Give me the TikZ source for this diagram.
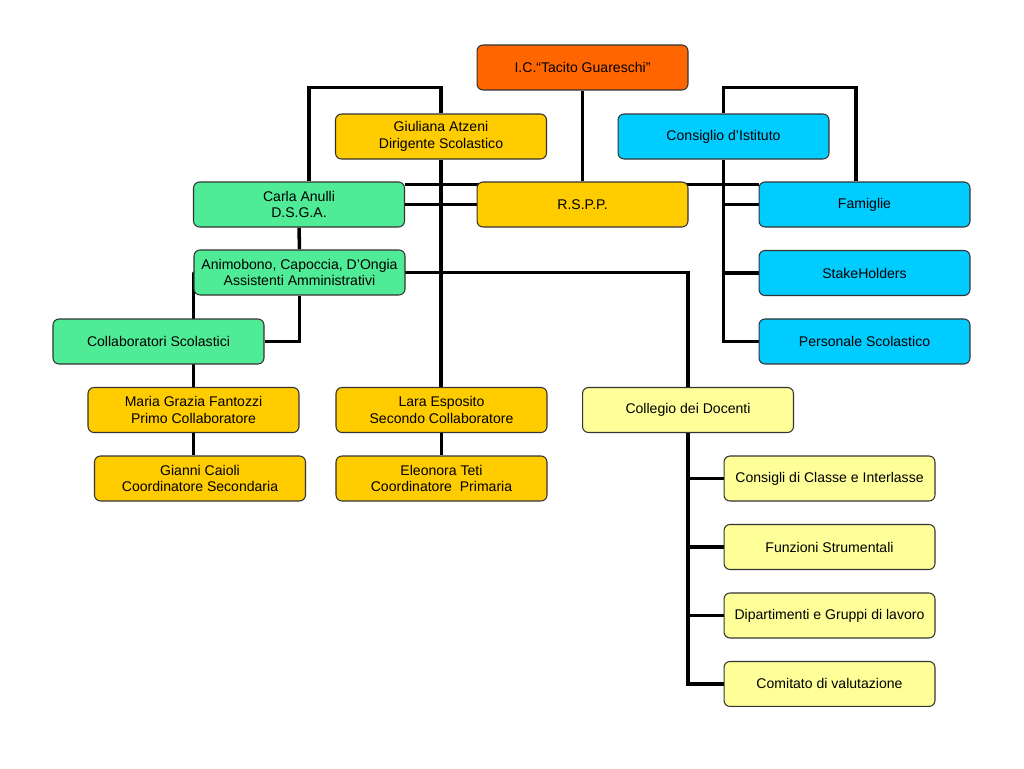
\documentclass[tikz,border=0pt]{standalone}
\usepackage{fontspec}
\setmainfont{Liberation Sans}
\usepackage{xcolor}
\usepackage{tikz}
\usetikzlibrary{positioning,calc,backgrounds}
\definecolor{headorange}{RGB}{255,102,0}
\definecolor{staffgreen}{RGB}{80,235,150}
\definecolor{boardcyan}{RGB}{0,204,255}
\definecolor{leadgold}{RGB}{255,204,0}
\definecolor{teachyellow}{RGB}{255,255,153}
\tikzset{
  unit/.style={draw=black!80,line width=0.6pt,rounded corners=0.12cm,
    minimum width=4.22cm,minimum height=0.9cm,inner sep=1pt,
    align=center,font=\fontsize{8}{9.5}\selectfont},
  head/.style={unit,fill=headorange},
  staff/.style={unit,fill=staffgreen},
  board/.style={unit,fill=boardcyan},
  lead/.style={unit,fill=leadgold},
  teaching/.style={unit,fill=teachyellow},
  link/.style={line width=2pt,draw=black}
}
\begin{document}
\begin{tikzpicture}[x=0.02cm,y=-0.02cm,node distance=1.37cm]
  \useasboundingbox (0,0) rectangle (1024,768);
  \node[head] (ic) at (582.5,67.5) {I.C.``Tacito Guareschi''};
  \node[lead] (dirigente) at (441,136.5) {Giuliana Atzeni\\Dirigente Scolastico};
  \node[board] (consiglio) at (723.5,136.5) {Consiglio d'Istituto};
  \node[staff] (dsga) at (299,204.5) {Carla Anulli\\D.S.G.A.};
  \node[lead] (rspp) at (582.5,204.5) {R.S.P.P.};
  \node[board] (famiglie) at (864.5,204.5) {Famiglie};
  \node[board] (stake) [below of=famiglie] {StakeHolders};
  \node[board] (personale) [below of=stake] {Personale Scolastico};
  \node[staff] (assistenti) at (299.5,272.5) {Animobono, Capoccia, D'Ongia\\Assistenti Amministrativi};
  \node[staff] (collab) at (158.5,341.5) {Collaboratori Scolastici};
  \node[lead] (primo) at (193.5,410) {Maria Grazia Fantozzi\\Primo Collaboratore};
  \node[lead] (caioli) at (200,478.5) {Gianni Caioli\\Coordinatore Secondaria};
  \node[lead] (secondo) at (441.5,410) {Lara Esposito\\Secondo Collaboratore};
  \node[lead] (teti) [below of=secondo] {Eleonora Teti\\Coordinatore~ Primaria};
  \node[teaching] (collegio) at (688,410) {Collegio dei Docenti};
  \node[teaching] (classe) at (829.5,478.5) {Consigli di Classe e Interlasse};
  \node[teaching] (funzioni) [below of=classe] {Funzioni Strumentali};
  \node[teaching] (dipartimenti) [below of=funzioni] {Dipartimenti e Gruppi di lavoro};
  \node[teaching] (comitato) [below of=dipartimenti] {Comitato di valutazione};
  \begin{scope}[on background layer]
    \draw[link] (ic) -- (rspp);
    \draw[link] (dirigente.south) -- (dirigente.south |- secondo.north);
    \draw[link] (secondo) -- (teti);
    \draw[link] (dsga) -- (rspp);
    \draw[link] (dsga) -- (assistenti);
    \draw[link] (primo.south) -- (primo.south |- caioli.north);
    \draw[link] ($(dsga.north east)+(0,3)$) -- ($(famiglie.north west)+(0,3)$);
    \draw[link] ([xshift=0.2cm]dsga.north) -- ++(0,-94) -| (dirigente.north);
    \draw[link] (consiglio.north) -- ++(0,-26) -| ([xshift=-0.17cm]famiglie.north);
    \draw[link] (consiglio.south) |- (personale.west);
    \draw[link] (consiglio.south |- famiglie.west) -- (famiglie.west);
    \draw[link] (consiglio.south |- stake.west) -- (stake.west);
    \draw[link] (assistenti.south) |- (collab.east);
    \draw[link] (primo.north) |- (assistenti.west) -| (collegio.north);
    \draw[link] (collegio.south) |- (comitato.west);
    \draw[link] (collegio.south |- classe.west) -- (classe.west);
    \draw[link] (collegio.south |- funzioni.west) -- (funzioni.west);
    \draw[link] (collegio.south |- dipartimenti.west) -- (dipartimenti.west);
  \end{scope}
\end{tikzpicture}
\end{document}
